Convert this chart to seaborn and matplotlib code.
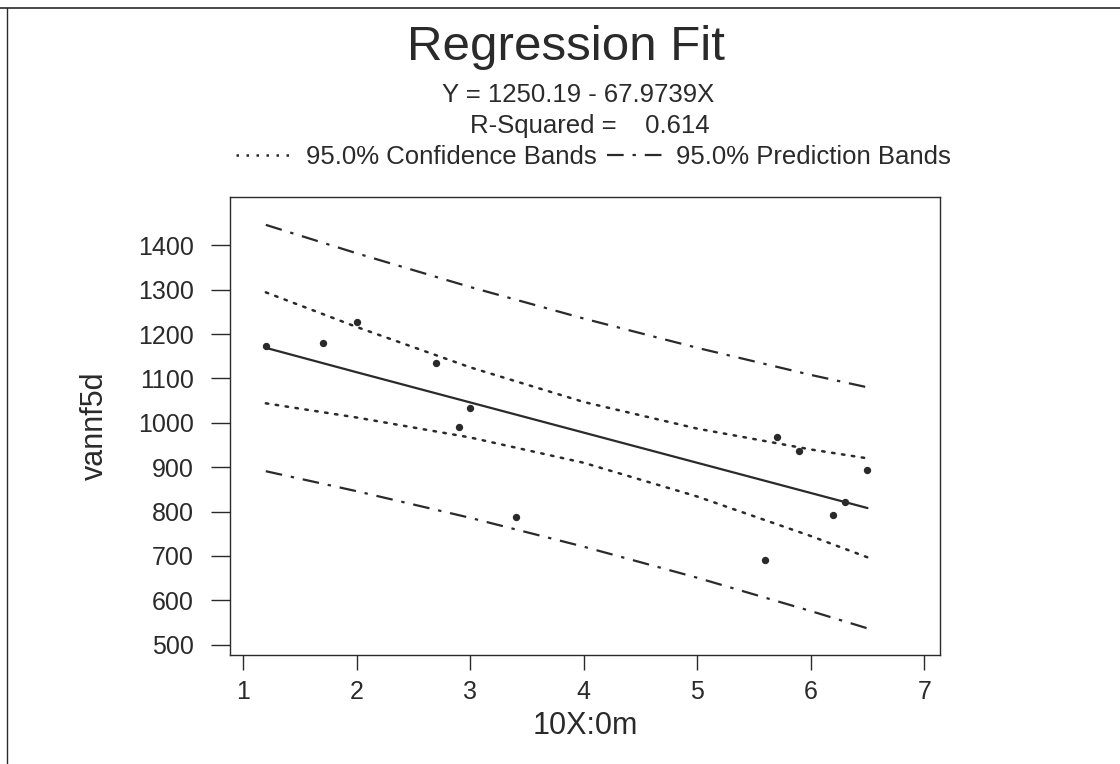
import matplotlib
matplotlib.use("Agg")
import matplotlib.pyplot as plt
from matplotlib.lines import Line2D
import pandas as pd
import seaborn as sns

# observed points
x_obs = [1.2, 1.7, 2.0, 2.7, 2.9, 3.0, 3.4, 5.6, 5.7, 5.9, 6.2, 6.3, 6.5]
y_obs = [1173, 1179, 1227, 1134, 990, 1033, 787, 691, 968, 936, 792, 821, 893]

# fitted line and bands
band_x = [1.2, 2.0, 3.0, 4.0, 5.0, 6.0, 6.5]
fit_y = [1169, 1114, 1046, 978, 910, 842, 808]
ci_upper = [1294, 1216, 1125, 1047, 987, 940, 920]
ci_lower = [1044, 1012, 967, 910, 834, 745, 697]
pi_upper = [1446, 1382, 1306, 1235, 1169, 1108, 1080]
pi_lower = [891, 846, 786, 721, 651, 576, 537]

x_ticks = [1, 2, 3, 4, 5, 6, 7]
y_ticks = [500, 600, 700, 800, 900, 1000, 1100, 1200, 1300, 1400]

title = "Regression Fit"
equation = "Y = 1250.19 - 67.9739X"
rsq = "R-Squared =    0.614"
ci_label = "95.0% Confidence Bands"
pi_label = "95.0% Prediction Bands"

sns.set_theme(style="white")
plt.rcParams['font.family'] = ['Liberation Sans', 'DejaVu Sans']
ink = "#2a2a2a"

obs = pd.DataFrame({"x": x_obs, "y": y_obs})
bands = pd.DataFrame({"x": band_x, "fit": fit_y, "ci_u": ci_upper, "ci_l": ci_lower,
                      "pi_u": pi_upper, "pi_l": pi_lower})

dotted = (0, (1, 3.0))
dashdot = (0, (7.5, 4, 1.5, 4))

fig = plt.figure(figsize=(11.2, 7.64), dpi=100)
ax = fig.add_axes([0.2054, 0.1427, 0.634, 0.599])

sns.lineplot(data=bands, x="x", y="fit", ax=ax, color=ink, linewidth=1.6)
for col in ["ci_u", "ci_l"]:
    sns.lineplot(data=bands, x="x", y=col, ax=ax, color=ink, linewidth=1.8,
                 linestyle=dotted, dash_capstyle="round")
for col in ["pi_u", "pi_l"]:
    sns.lineplot(data=bands, x="x", y=col, ax=ax, color=ink, linewidth=1.6,
                 linestyle=dashdot)
sns.scatterplot(data=obs, x="x", y="y", ax=ax, color=ink, s=28, linewidth=0, zorder=3)

ax.set_xlim(0.885, 7.14)
ax.set_ylim(477, 1508)
ax.set_xticks(x_ticks)
ax.set_yticks(y_ticks)
ax.tick_params(axis="y", direction="out", length=14, width=1, pad=12,
               labelsize=18, colors=ink, left=True)
ax.tick_params(axis="x", direction="out", length=11, width=1, pad=7,
               labelsize=18, colors=ink, bottom=True)
for sp in ax.spines.values():
    sp.set_color(ink)
    sp.set_linewidth(1.0)
ax.set_xlabel("10X:0m", fontsize=22, color=ink, labelpad=5)
ax.set_ylabel("vannf5d", fontsize=22, color=ink, labelpad=20)

fig.text(0.505, 1 - 60 / 764, title, fontsize=35.5, color=ink, ha="center", va="baseline")
fig.text(0.516, 1 - 102 / 764, equation, fontsize=18.5, color=ink, ha="center", va="baseline")
fig.text(0.527, 1 - 133 / 764, rsq, fontsize=18.5, color=ink, ha="center", va="baseline")

handles = [Line2D([], [], color=ink, linewidth=1.8, linestyle=dotted),
           Line2D([], [], color=ink, linewidth=1.6, linestyle=dashdot)]
fig.legend(handles, [ci_label, pi_label], loc="center", bbox_to_anchor=(0.53, 1 - 157 / 764),
           ncol=2, frameon=False, fontsize=18.5, handlelength=2.3, handletextpad=0.4,
           columnspacing=0.4, labelcolor=ink)

# page frame (top and left edges of the scanned page)
fig.add_artist(Line2D([0, 1], [1 - 8 / 764] * 2, transform=fig.transFigure, color=ink, linewidth=1.2))
fig.add_artist(Line2D([7 / 1120] * 2, [0, 1 - 8 / 764], transform=fig.transFigure, color=ink, linewidth=1.0))

fig.savefig("out.png", dpi=100)
